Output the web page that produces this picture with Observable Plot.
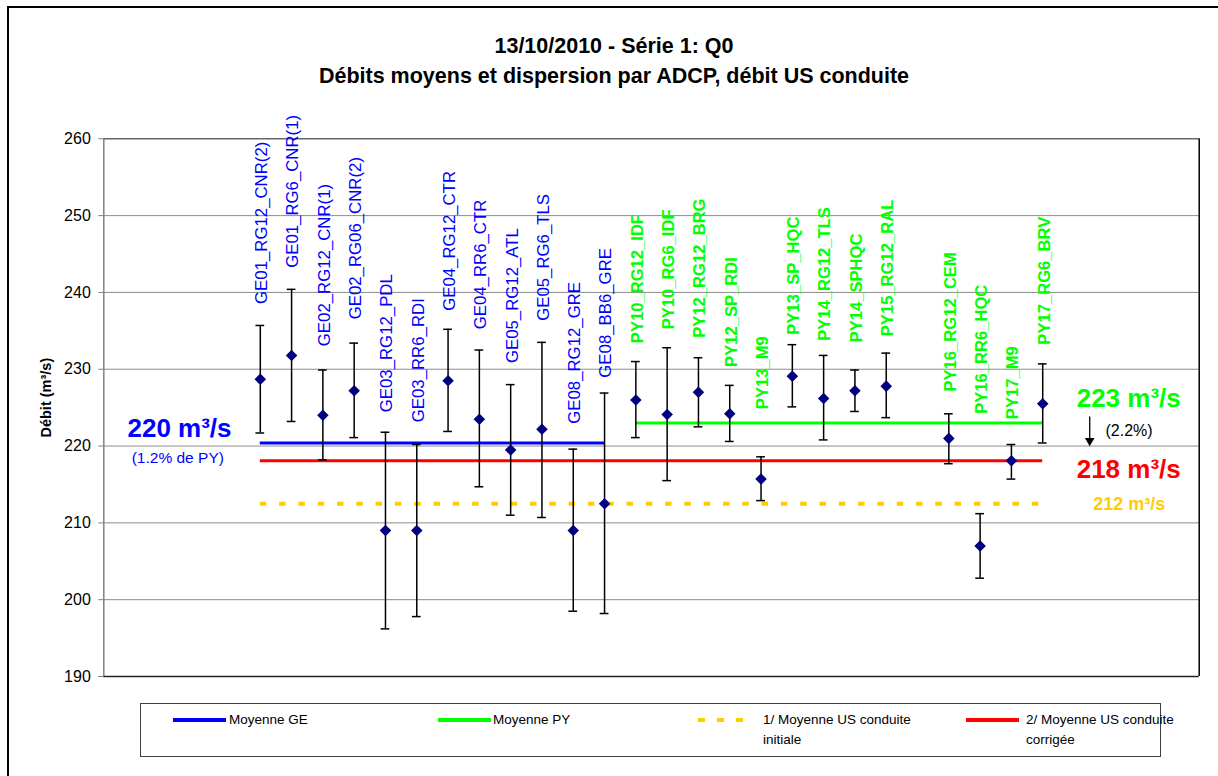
<!DOCTYPE html>
<html>
<head>
<meta charset="utf-8">
<script src="https://cdn.jsdelivr.net/npm/d3@7"></script>
<script src="https://cdn.jsdelivr.net/npm/@observablehq/plot@0.6"></script>
<style>
html, body { margin: 0; padding: 0; background: #fff; overflow: hidden; }
body { width: 1218px; height: 776px; position: relative; font-family: "Liberation Sans", Arial, sans-serif; color: #000; }
#frame { position: absolute; left: 7px; top: 6px; width: 1240px; height: 820px; border: 2px solid #000; box-sizing: border-box; }
#title { position: absolute; left: 8px; width: 1212px; top: 31px; text-align: center; font-weight: bold; font-size: 21.5px; line-height: 30px; }
#chart { position: absolute; left: 0; top: 100px; }
#legend { position: absolute; left: 140px; top: 703px; width: 1021px; height: 54px; border: 1px solid #404040; box-sizing: border-box; background: #fff; font-size: 13.5px; line-height: 20px; }
#legend .sw { position: absolute; top: 14px; width: 53px; height: 4px; }
#legend .lbl { position: absolute; top: 6px; white-space: nowrap; }
</style>
</head>
<body>
<div id="frame"></div>
<div id="title">13/10/2010 - Série 1: Q0<br>Débits moyens et dispersion par ADCP, débit US conduite</div>
<div id="chart"></div>
<div id="legend"></div>
<script>
// ---- data ----
const names = [
  "GE01_RG12_CNR(2)", "GE01_RG6_CNR(1)", "GE02_RG12_CNR(1)", "GE02_RG06_CNR(2)",
  "GE03_RG12_PDL", "GE03_RR6_RDI", "GE04_RG12_CTR", "GE04_RR6_CTR",
  "GE05_RG12_ATL", "GE05_RG6_TLS", "GE08_RG12_GRE", "GE08_BB6_GRE",
  "PY10_RG12_IDF", "PY10_RG6_IDF", "PY12_RG12_BRG", "PY12_SP_RDI",
  "PY13_M9", "PY13_SP_HQC", "PY14_RG12_TLS", "PY14_SPHQC", "PY15_RG12_RAL",
  "PY16_RG12_CEM", "PY16_RR6_HQC", "PY17_M9", "PY17_RG6_BRV"
];
const positions = [5, 6, 7, 8, 9, 10, 11, 12, 13, 14, 15, 16,
                   17, 18, 19, 20, 21, 22, 23, 24, 25, 27, 28, 29, 30];
const meanFlow = [228.7, 231.8, 224.0, 227.2, 209.0, 209.0, 228.5, 223.5, 219.5, 222.2, 209.0, 212.5,
                  226.0, 224.1, 227.0, 224.2, 215.7, 229.1, 226.2, 227.2, 227.8, 221.0, 207.0, 218.1, 225.5];
const minFlow  = [221.7, 223.2, 218.2, 221.1, 196.2, 197.8, 221.9, 214.7, 211.0, 210.7, 198.5, 198.2,
                  221.1, 215.5, 222.5, 220.6, 212.9, 225.1, 220.8, 224.5, 223.7, 217.7, 202.8, 215.7, 220.4];
const maxFlow  = [235.7, 240.4, 229.9, 233.4, 221.8, 220.2, 235.2, 232.5, 228.0, 233.5, 219.6, 226.9,
                  231.0, 232.8, 231.5, 227.9, 218.6, 233.2, 231.8, 229.9, 232.1, 224.2, 211.2, 220.2, 230.7];
const labelBase = [238.5, 243.2, 233.0, 236.5, 224.4, 223.1, 237.6, 235.2, 230.8, 236.3, 222.9, 228.9,
                   233.4, 235.2, 234.1, 230.3, 224.8, 234.5, 233.7, 233.5, 234.3, 227.1, 224.2, 223.5, 233.2];

const meanNames  = ["Moyenne GE", "Moyenne PY", "1/ Moyenne US conduite\ninitiale", "2/ Moyenne US conduite\ncorrigée"];
const meanValues = [220.4, 223.0, 212.5, 218.1];
const meanFrom   = [5, 17, 5, 5];
const meanTo     = [16, 30, 30, 30];
const meanLabels = ["220 m³/s", "223 m³/s", "212 m³/s", "218 m³/s"];
const geNote = "(1.2% de PY)";
const changeNote = "(2.2%)";
const yTicks = [190, 200, 210, 220, 230, 240, 250, 260];

// ---- styles ----
const font = "'Liberation Sans', Arial, sans-serif";
const meanColors = ["#0000ff", "#00ff00", "#ffcc00", "#ff0000"];

const pts = names.map((n, i) => ({
  name: n, x: positions[i], y: meanFlow[i], lo: minFlow[i], hi: maxFlow[i], lab: labelBase[i], grp: n.slice(0, 2)
}));
const means = meanNames.map((n, i) => ({
  name: n, y: meanValues[i], x1: meanFrom[i], x2: meanTo[i], color: meanColors[i], label: meanLabels[i], dashed: i === 2
}));
const ge = means[0], py = means[1], init = means[2], corr = means[3];
const capHalf = 0.14;
const arrowRow = { x: positions[positions.length - 1], y1: py.y, y2: corr.y };

const chart = Plot.plot({
  width: 1218,
  height: 600,
  marginLeft: 103.3,
  marginRight: 19.3,
  marginTop: 38.3,
  marginBottom: 24,
  style: { fontFamily: font, fontSize: "16px", color: "#000", overflow: "visible", background: "transparent" },
  x: { domain: [0, 35], axis: null },
  y: { domain: [190, 260], axis: null },
  marks: [
    Plot.ruleY(yTicks.slice(1, -1), { stroke: "#8c8c8c", strokeWidth: 1 }),
    Plot.ruleX([0], { stroke: "#808080", strokeWidth: 1.5 }),
    Plot.ruleY([260], { stroke: "#666", strokeWidth: 1.5 }),
    Plot.ruleX([35], { stroke: "#000", strokeWidth: 1.5 }),
    Plot.ruleY([190], { stroke: "#222", strokeWidth: 1.5 }),
    Plot.axisY(yTicks, { tickSize: 5, tickPadding: 8, stroke: "#808080", fill: "#000", fontSize: 16, label: null, tickFormat: d => String(d) }),
    Plot.text(["Débit (m³/s)"], { text: d => d, frameAnchor: "left", dx: -57.8, dy: -10, rotate: -90, textAnchor: "middle", lineAnchor: "middle", fontWeight: "bold", fontSize: 14.5, fill: "#000" }),
    // mean lines
    Plot.ruleY(means.filter(d => !d.dashed), { y: "y", x1: "x1", x2: "x2", stroke: "color", strokeWidth: 3 }),
    Plot.ruleY(means.filter(d => d.dashed), { y: "y", x1: "x1", x2: "x2", stroke: "color", strokeWidth: 4, strokeDasharray: "6.5,12.8" }),
    // error bars
    Plot.ruleX(pts, { x: "x", y1: "lo", y2: "hi", stroke: "#000", strokeWidth: 1.5 }),
    Plot.ruleY(pts, { y: "hi", x1: d => d.x - capHalf, x2: d => d.x + capHalf, stroke: "#000", strokeWidth: 1.5 }),
    Plot.ruleY(pts, { y: "lo", x1: d => d.x - capHalf, x2: d => d.x + capHalf, stroke: "#000", strokeWidth: 1.5 }),
    Plot.dot(pts, { x: "x", y: "y", symbol: "diamond2", r: 5.2, fill: "#000080", stroke: "none" }),
    // rotated labels
    Plot.text(pts.filter(d => d.grp === "GE"), { x: "x", y: "lab", text: "name", rotate: -90, textAnchor: "start", lineAnchor: "middle", dx: 1.5, fill: "#0000ff", fontSize: 16.8 }),
    Plot.text(pts.filter(d => d.grp === "PY"), { x: "x", y: "lab", text: "name", rotate: -90, textAnchor: "start", lineAnchor: "middle", dx: 1.5, fill: "#00ff00", fontSize: 16.6, fontWeight: "bold" }),
    // annotations
    Plot.text([ge], { y: "y", text: "label", frameAnchor: "left", dx: 75.7, dy: -6, lineAnchor: "bottom", textAnchor: "middle", fill: ge.color, fontSize: 26, fontWeight: "bold" }),
    Plot.text([ge], { y: "y", text: () => geNote, frameAnchor: "left", dx: 74, dy: 20.5, lineAnchor: "bottom", textAnchor: "middle", fill: ge.color, fontSize: 15.5 }),
    Plot.text([py], { y: "y", text: "label", frameAnchor: "right", dx: -70.5, dy: -16, lineAnchor: "bottom", textAnchor: "middle", fill: py.color, fontSize: 26, fontWeight: "bold" }),
    Plot.text([corr], { y: "y", text: "label", frameAnchor: "right", dx: -70.5, dy: 17.7, lineAnchor: "bottom", textAnchor: "middle", fill: corr.color, fontSize: 26, fontWeight: "bold" }),
    Plot.text([init], { y: "y", text: "label", frameAnchor: "right", dx: -70, dy: 6.5, lineAnchor: "bottom", textAnchor: "middle", fill: init.color, fontSize: 18, fontWeight: "bold" }),
    Plot.text([py], { y: "y", text: () => changeNote, frameAnchor: "right", dx: -93.7, dy: 13.4, lineAnchor: "bottom", textAnchor: "start", fill: "#000", fontSize: 16 }),
    Plot.arrow([arrowRow], { x1: "x", x2: "x", y1: "y1", y2: "y2", dx: 47, dy: -6, headLength: 0, insetEnd: 13, stroke: "#000", strokeWidth: 1.3 }),
    Plot.dot([arrowRow], { x: "x", y: "y2", dx: 47, dy: -19.9, symbol: "triangle", rotate: 180, r: 3.6, fill: "#000", stroke: "none" })
  ]
});
document.getElementById("chart").appendChild(chart);

// ---- legend ----
const legend = document.getElementById("legend");
const swLeft = [32, 297, 557, 825];
const lblLeft = [88, 352, 622, 885];
means.forEach((m, i) => {
  const sw = document.createElement("div");
  sw.className = "sw";
  sw.style.left = swLeft[i] + "px";
  sw.style.background = m.dashed
    ? `repeating-linear-gradient(90deg, ${m.color} 0 7px, transparent 7px 19px)`
    : m.color;
  legend.appendChild(sw);
  const lb = document.createElement("div");
  lb.className = "lbl";
  lb.style.left = lblLeft[i] + "px";
  m.name.split("\n").forEach((line, k) => {
    if (k) lb.appendChild(document.createElement("br"));
    lb.appendChild(document.createTextNode(line));
  });
  legend.appendChild(lb);
});
</script>
</body>
</html>
